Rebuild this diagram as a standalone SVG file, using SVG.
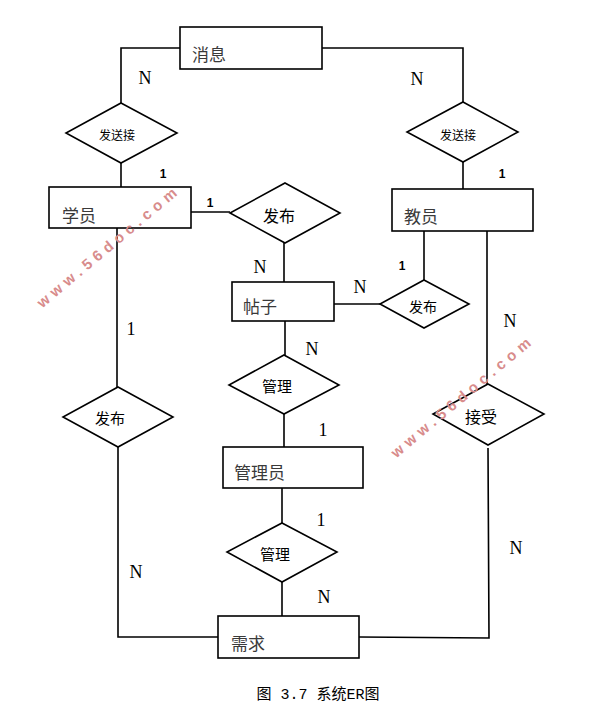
<svg xmlns="http://www.w3.org/2000/svg" width="606" height="706" viewBox="0 0 606 706">
<style>
.box{fill:#fff;stroke:#000;stroke-width:1.6}
.dia{fill:#fff;stroke:#000;stroke-width:1.6}
.ln{fill:none;stroke:#000;stroke-width:1.6}
.bt{font-family:"Noto Sans CJK SC","Noto Sans CJK TC",sans-serif;font-size:17px;fill:#3a3a3a}
.dt{font-family:"Noto Sans CJK SC","Noto Sans CJK TC",sans-serif;fill:#000;text-anchor:middle}
.n{font-family:"Liberation Serif",serif;font-size:18px;fill:#000;text-anchor:middle}
.o{font-family:"Liberation Sans",sans-serif;font-size:12px;font-weight:bold;fill:#000;text-anchor:middle}
.wm{font-family:"Liberation Sans",sans-serif;font-size:15px;font-weight:bold;fill:#d88c8c;letter-spacing:5px;text-anchor:middle}
.cap{font-family:"Liberation Mono","Noto Sans CJK SC",monospace;font-size:15px;fill:#000;text-anchor:middle}
</style>
<rect width="606" height="706" fill="#fff"/>
<g id="connectors">
<polyline class="ln" points="180,48 121,48 121,103"/>
<line class="ln" x1="121" y1="163" x2="121" y2="187"/>
<polyline class="ln" points="322,48 463,48 463,102"/>
<line class="ln" x1="463" y1="162" x2="463" y2="189"/>
<line class="ln" x1="191" y1="212" x2="230" y2="212"/>
<line class="ln" x1="284" y1="243" x2="284" y2="282"/>
<line class="ln" x1="334" y1="304" x2="380" y2="304"/>
<line class="ln" x1="424" y1="231" x2="424" y2="280"/>
<line class="ln" x1="285" y1="321" x2="285" y2="355"/>
<line class="ln" x1="284" y1="414" x2="284" y2="447"/>
<line class="ln" x1="282" y1="488" x2="282" y2="523"/>
<line class="ln" x1="282" y1="582" x2="282" y2="616"/>
<line class="ln" x1="117" y1="228" x2="117" y2="387"/>
<polyline class="ln" points="118,447 118,637 218,637"/>
<line class="ln" x1="487" y1="231" x2="487" y2="384"/>
<polyline class="ln" points="488,448 489,638 359,637"/>
</g>
<g id="msg"><rect class="box" x="180" y="27" width="142" height="42"/><text class="bt" x="192" y="61" font-size="18">消息</text></g>
<g id="sendL"><polygon class="dia" points="121,103 177,133 121,163 66,133"/><text class="dt" x="117" y="140" font-size="12">发送接</text></g>
<g id="sendR"><polygon class="dia" points="463,102 518,132 463,162 407,132"/><text class="dt" x="458" y="140" font-size="12">发送接</text></g>
<g id="student"><rect class="box" x="49" y="187" width="142" height="41"/><text class="bt" x="62" y="222">学员</text></g>
<g id="teacher"><rect class="box" x="392" y="189" width="141" height="42"/><text class="bt" x="404" y="223">教员</text></g>
<g id="pub1"><polygon class="dia" points="285,183 340,213 285,243 230,213"/><text class="dt" x="279" y="222" font-size="16">发布</text></g>
<g id="post"><rect class="box" x="232" y="282" width="102" height="39"/><text class="bt" x="243" y="313" font-size="16">帖子</text></g>
<g id="pub2"><polygon class="dia" points="424,280 469,304 424,328 380,304"/><text class="dt" x="423" y="312" font-size="14">发布</text></g>
<g id="manage1"><polygon class="dia" points="284,355 339,385 284,414 229,385"/><text class="dt" x="277" y="392" font-size="15">管理</text></g>
<g id="admin"><rect class="box" x="223" y="447" width="140" height="41"/><text class="bt" x="234" y="479">管理员</text></g>
<g id="manage2"><polygon class="dia" points="282,523 337,552 282,582 227,552"/><text class="dt" x="275" y="560" font-size="15">管理</text></g>
<g id="pub3"><polygon class="dia" points="118,387 173,417 118,447 63,417"/><text class="dt" x="110" y="424" font-size="15">发布</text></g>
<g id="accept"><polygon class="dia" points="488,384 544,414 488,445 433,414"/><text class="dt" x="481" y="423" font-size="16">接受</text></g>
<g id="demand"><rect class="box" x="218" y="616" width="141" height="42"/><text class="bt" x="231" y="650">需求</text></g>
<g id="labels">
<text class="n" x="145" y="84">N</text>
<text class="n" x="417" y="85">N</text>
<text class="o" x="163" y="178">1</text>
<text class="o" x="502" y="178">1</text>
<text class="o" x="210" y="207">1</text>
<text class="n" x="260" y="273">N</text>
<text class="n" x="360" y="293">N</text>
<text class="o" x="402" y="270">1</text>
<text class="n" x="131" y="335">1</text>
<text class="n" x="510" y="327">N</text>
<text class="n" x="312" y="355">N</text>
<text class="n" x="323" y="436">1</text>
<text class="n" x="321" y="526">1</text>
<text class="n" x="136" y="578">N</text>
<text class="n" x="324" y="603">N</text>
<text class="n" x="516" y="554">N</text>
</g>
<text class="wm" transform="translate(112,250) rotate(-40)">www.56doc.com</text>
<text class="wm" transform="translate(466,400) rotate(-40)">www.56doc.com</text>
<text class="cap" x="318" y="699">图 3.7 系统ER图</text>
</svg>
